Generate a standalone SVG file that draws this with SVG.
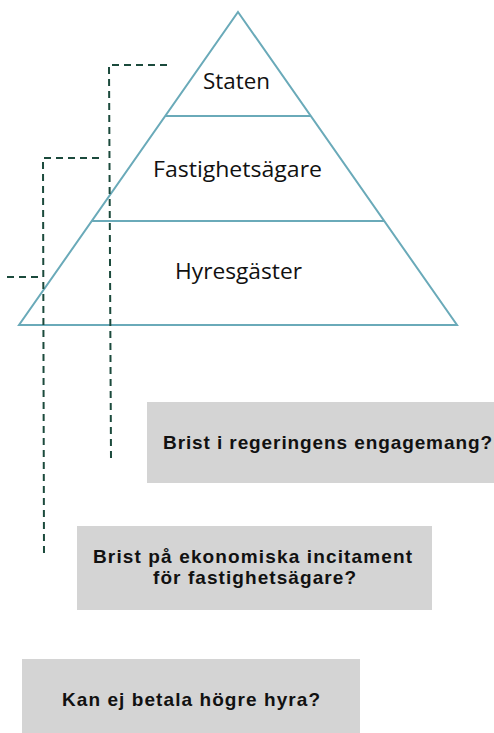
<svg xmlns="http://www.w3.org/2000/svg" width="494" height="733" viewBox="0 0 494 733">
  <style>
    .tri { fill: none; stroke: #6aaab9; stroke-width: 2; stroke-linejoin: miter; }
    .lvl { font-family: "Open Sans", "Noto Sans", sans-serif; font-size: 22px; fill: #111111; }
    .box { fill: #d4d4d4; }
    .q { font-family: "Liberation Sans", Arial, sans-serif; font-size: 19px; font-weight: bold; fill: #111111; }
    .dash { fill: none; stroke: #1b4a3c; stroke-width: 2; stroke-dasharray: 7 5; }
  </style>
  <rect width="494" height="733" fill="#ffffff"/>
  <g id="pyramid">
    <polygon class="tri" points="238,12 457,325 19,325"/>
    <line class="tri" x1="165" y1="116" x2="311" y2="116"/>
    <line class="tri" x1="92" y1="221" x2="384" y2="221"/>
  </g>
  <g id="level-staten">
    <text class="lvl" x="203" y="89" textLength="67" lengthAdjust="spacingAndGlyphs">Staten</text>
  </g>
  <g id="level-fastighetsagare">
    <text class="lvl" x="153" y="177" textLength="169" lengthAdjust="spacingAndGlyphs">Fastighetsägare</text>
  </g>
  <g id="level-hyresgaster">
    <text class="lvl" x="175" y="279" textLength="127" lengthAdjust="spacingAndGlyphs">Hyresgäster</text>
  </g>
  <g id="connectors">
    <path class="dash" d="M167,65 H109 L111,459"/>
    <path class="dash" d="M99,158 H43 L44,558"/>
    <path class="dash" d="M7,277 H43"/>
  </g>
  <g id="box-regering">
    <rect class="box" x="147" y="402" width="350" height="81"/>
    <text class="q" x="163" y="449" textLength="329" lengthAdjust="spacing">Brist i regeringens engagemang?</text>
  </g>
  <g id="box-incitament">
    <rect class="box" x="77" y="526" width="355" height="84"/>
    <text class="q" x="93" y="563" textLength="319" lengthAdjust="spacing">Brist på ekonomiska incitament</text>
    <text class="q" x="153" y="584" textLength="203" lengthAdjust="spacing">för fastighetsägare?</text>
  </g>
  <g id="box-hyra">
    <rect class="box" x="22" y="659" width="338" height="80"/>
    <text class="q" x="62" y="706" textLength="258" lengthAdjust="spacing">Kan ej betala högre hyra?</text>
  </g>
</svg>
